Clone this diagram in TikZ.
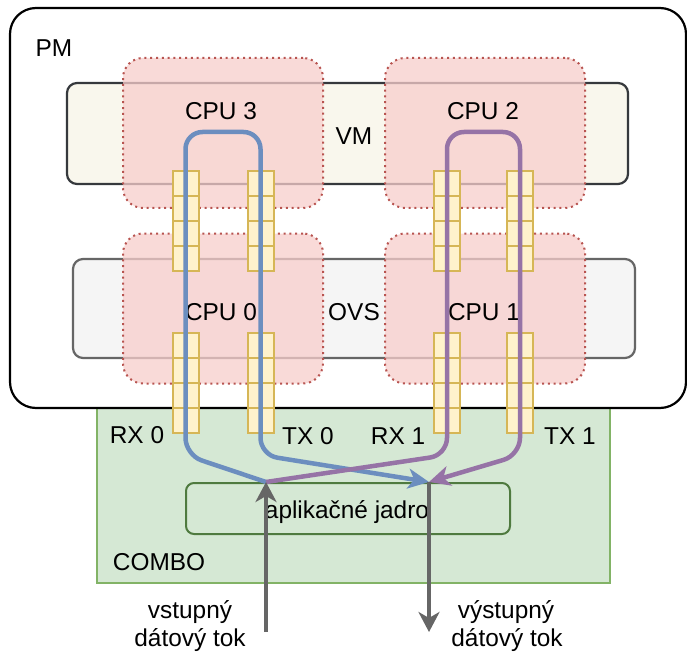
\documentclass[tikz,border=0pt]{standalone}
\usepackage{fontspec}
\setmainfont{Liberation Sans}
\usetikzlibrary{arrows.meta}
\definecolor{cpufill}{HTML}{F8CECC}
\definecolor{cpuline}{HTML}{B85450}
\definecolor{qfill}{HTML}{FFF2CC}
\definecolor{qline}{HTML}{D6B656}
\definecolor{gfill}{HTML}{D5E8D4}
\definecolor{gline}{HTML}{82B366}
\definecolor{appline}{HTML}{4F7A3F}
\definecolor{vmfill}{HTML}{F9F7ED}
\definecolor{vmline}{HTML}{36393D}
\definecolor{ovsfill}{HTML}{F5F5F5}
\definecolor{ovsline}{HTML}{666666}
\definecolor{bluep}{HTML}{6C8EBF}
\definecolor{purp}{HTML}{9673A6}
\definecolor{grayarr}{HTML}{666666}
\tikzset{
  box/.style={inner sep=0pt, outer sep=0pt, rectangle},
  pmbox/.style={box, draw=black, fill=white, line width=2.2pt, rounded corners=26pt},
  combobox/.style={box, draw=gline, fill=gfill, line width=2pt},
  vmbox/.style={box, draw=vmline, fill=vmfill, line width=2.2pt, rounded corners=10pt},
  ovsbox/.style={box, draw=ovsline, fill=ovsfill, line width=2.2pt, rounded corners=10pt},
  cpubox/.style={box, draw=cpuline, fill=cpufill, fill opacity=0.75, line width=2pt,
    dash pattern=on 2pt off 3.8pt, rounded corners=20pt, minimum width=200pt, minimum height=150pt},
  cell/.style={box, draw=qline, fill=qfill, line width=2pt, minimum width=26pt, minimum height=25pt},
  appbox/.style={box, draw=appline, fill=gfill, line width=2pt, rounded corners=8pt},
  lbl/.style={inner sep=0pt, anchor=base, font=\fontsize{24.4}{28}\selectfont, text=black},
  flowb/.style={draw=bluep, line width=4.5pt, rounded corners=17pt,
    -{Stealth[length=21pt,width=20pt,inset=6pt]}},
  flowp/.style={draw=purp, line width=4.5pt, rounded corners=17pt,
    -{Stealth[length=21pt,width=20pt,inset=6pt]}},
  grayflow/.style={draw=grayarr, line width=4.5pt,
    -{Stealth[length=20pt,width=21pt,inset=6pt]}},
}
\begin{document}
\begin{tikzpicture}[x=1pt,y=-1pt]
\useasboundingbox (0,0) rectangle (687,652);
% containers
\node[combobox, minimum width=513pt, minimum height=185pt] (combo) at (353.5,490.5) {};
\node[pmbox, minimum width=676pt, minimum height=400pt] (pm) at (348,208) {};
\node[vmbox, minimum width=561pt, minimum height=101pt] (vm) at (347.5,133.5) {};
\node[ovsbox, minimum width=562pt, minimum height=99pt] (ovs) at (354,308.5) {};
% CPUs
\node[cpubox] (cpu3) at (223,133) {};
\node[cpubox] (cpu2) at (485,133) {};
\node[cpubox] (cpu0) at (223,308.5) {};
\node[cpubox] (cpu1) at (485,308.5) {};
% queues
\foreach \cx/\cn in {185.5/a,260.5/b,447/c,520/d}{
  \foreach \cy/\k in {183.5/1,208.5/2,233.5/3,258.5/4,345.5/5,370.5/6,395.5/7,420.5/8}{
    \node[cell] (q\cn\k) at (\cx,\cy) {};
  }
}
% application core
\node[appbox, minimum width=324pt, minimum height=51pt] (app) at (348,508.5) {};
% labels
\node[lbl] (tpm) at (54,57) {PM};
\node[lbl] (tvm) at (354,145) {VM};
\node[lbl] (tovs) at (354,320) {OVS};
\node[lbl] (tcpu3) at (221,120) {CPU 3};
\node[lbl] (tcpu2) at (483,120) {CPU 2};
\node[lbl] (tcpu0) at (221,320) {CPU 0};
\node[lbl] (tcpu1) at (484,320) {CPU 1};
\node[lbl] (trx0) at (137,443) {RX 0};
\node[lbl] (ttx0) at (308,444) {TX 0};
\node[lbl] (trx1) at (398,444) {RX 1};
\node[lbl] (ttx1) at (570,444) {TX 1};
\node[lbl] (tcombo) at (159,570) {COMBO};
\node[lbl] (tapp) at (347,518) {aplikačné jadro};
\node[lbl] (tin1) at (190,618) {vstupný};
\node[lbl] (tin2) at (190,646) {dátový tok};
\node[lbl] (tout1) at (506,618) {výstupný};
\node[lbl] (tout2) at (507,646) {dátový tok};
% flow coordinates
\coordinate (in) at (266,482);
\coordinate (out) at (429,482);
\coordinate (inbot) at (266,632);
\coordinate (outbot) at (429,632);
% flows
\draw[flowb] (in) -- (185.5,455) -- (185.5,132) -- (260.5,132) -- (260.5,455) -- (out);
\draw[flowp] (in) -- (447,455) -- (447,132) -- (520,132) -- (520,455) -- (out);
\draw[grayflow] (inbot) -- (in);
\draw[grayflow] (out) -- (outbot);
\end{tikzpicture}
\end{document}
